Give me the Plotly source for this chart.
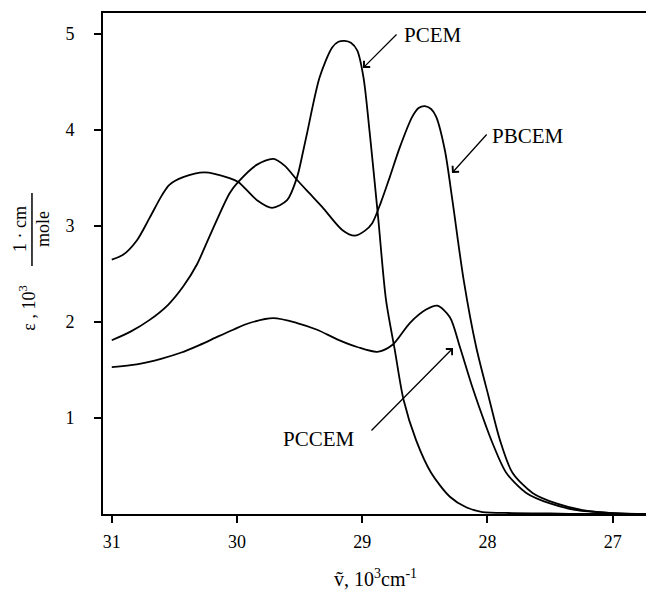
import plotly.graph_objects as go

# ---- data ----
pcem_x = [31.0, 30.91, 30.80, 30.70, 30.60, 30.54, 30.43, 30.26, 30.06, 29.99, 29.84, 29.72,
          29.60, 29.52, 29.47, 29.44, 29.34, 29.24, 29.19, 29.14, 29.09, 29.04, 28.99, 28.94,
          28.90, 28.87, 28.81, 28.74, 28.67, 28.57, 28.45, 28.30, 28.17, 28.04, 27.8, 27.5,
          27.2, 26.9, 26.67]
pcem_y = [2.65, 2.70, 2.85, 3.08, 3.32, 3.43, 3.51, 3.56, 3.50, 3.46, 3.27, 3.19,
          3.27, 3.51, 3.79, 3.97, 4.55, 4.86, 4.92, 4.93, 4.91, 4.83, 4.55, 3.97,
          3.45, 3.05, 2.23, 1.71, 1.19, 0.77, 0.43, 0.18, 0.07, 0.02, 0.01, 0.005,
          0.0, 0.0, 0.0]

pbcem_x = [31.0, 30.85, 30.70, 30.55, 30.43, 30.32, 30.22, 30.06, 29.99, 29.84, 29.71, 29.62,
           29.52, 29.42, 29.32, 29.16, 29.06, 28.98, 28.92, 28.85, 28.78, 28.70, 28.60, 28.55,
           28.50, 28.45, 28.41, 28.34, 28.28, 28.19, 28.09, 27.99, 27.90, 27.80, 27.64, 27.45,
           27.24, 27.0, 26.8, 26.67]
pbcem_y = [1.81, 1.90, 2.02, 2.18, 2.37, 2.60, 2.89, 3.34, 3.46, 3.64, 3.70, 3.63,
           3.48, 3.34, 3.20, 2.96, 2.90, 2.95, 3.03, 3.25, 3.51, 3.82, 4.14, 4.23,
           4.25, 4.22, 4.14, 3.79, 3.27, 2.44, 1.74, 1.22, 0.77, 0.43, 0.22, 0.11,
           0.04, 0.01, 0.0, 0.0]

pccem_x = [31.0, 30.8, 30.6, 30.45, 30.3, 30.15, 30.03, 29.9, 29.71, 29.52, 29.36, 29.2,
           29.04, 28.88, 28.76, 28.62, 28.49, 28.40, 28.30, 28.22, 28.12, 28.01, 27.96,
           27.85, 27.69, 27.50, 27.29, 27.0, 26.8, 26.67]
pccem_y = [1.53, 1.56, 1.62, 1.68, 1.76, 1.85, 1.92, 1.99, 2.04, 1.99, 1.92, 1.82,
           1.74, 1.69, 1.76, 1.99, 2.13, 2.17, 2.05, 1.74, 1.32, 0.91, 0.74,
           0.43, 0.22, 0.11, 0.04, 0.01, 0.0, 0.0]

x_ticks = [31, 30, 29, 28, 27]
y_ticks = [1, 2, 3, 4, 5]

FONT = "Liberation Serif"

fig = go.Figure()
for xs, ys, name in [(pcem_x, pcem_y, "PCEM"), (pbcem_x, pbcem_y, "PBCEM"), (pccem_x, pccem_y, "PCCEM")]:
    fig.add_trace(go.Scatter(x=xs, y=ys, mode="lines", name=name,
                             line=dict(color="black", width=1.8, shape="spline", smoothing=0.8),
                             showlegend=False))

# curve labels with arrows
labels = [
    ("PCEM", 0.5989, 0.9561, 0.4719, 0.8902, 35, -35),
    ("PBCEM", 0.7713, 0.7545, 0.6334, 0.6806, 36, -40),
    ("PCCEM", 0.3920, 0.1497, 0.6352, 0.3313, -83, 84),
]
for txt, tx, ty, hx, hy, ax, ay in labels:
    fig.add_annotation(x=tx, y=ty, xref="paper", yref="paper", text=txt, showarrow=False,
                       xanchor="center", yanchor="middle",
                       font=dict(family=FONT, size=21, color="black"))
    fig.add_annotation(x=hx, y=hy, xref="paper", yref="paper", text="", showarrow=True,
                       ax=ax, ay=ay, arrowhead=4, arrowsize=1.3, arrowwidth=1.3, arrowcolor="black")

# y-axis title with fraction
ytitle_font = dict(family=FONT, size=18, color="black")
fig.add_annotation(x=-0.136, y=0.41, xref="paper", yref="paper", text="ε , 10<sup>3</sup>",
                   textangle=-90, showarrow=False, xanchor="center", yanchor="middle", font=ytitle_font)
fig.add_annotation(x=-0.1506, y=0.5689, xref="paper", yref="paper", text="1 · cm",
                   textangle=-90, showarrow=False, xanchor="center", yanchor="middle", font=ytitle_font)
fig.add_annotation(x=-0.1089, y=0.5689, xref="paper", yref="paper", text="mole",
                   textangle=-90, showarrow=False, xanchor="center", yanchor="middle", font=ytitle_font)
fig.add_shape(type="line", xref="paper", yref="paper", x0=-0.1289, x1=-0.1289, y0=0.495, y1=0.6407,
              line=dict(color="black", width=1.5))

# x-axis title
fig.add_annotation(x=0.495, y=-0.128, xref="paper", yref="paper",
                   text="ṽ, 10<sup>3</sup>cm<sup>-1</sup>", showarrow=False,
                   xanchor="center", yanchor="middle",
                   font=dict(family=FONT, size=20, color="black"))

fig.update_layout(
    width=646, height=586,
    margin=dict(l=95, r=0, t=5, b=80, autoexpand=False),
    plot_bgcolor="white", paper_bgcolor="white",
    xaxis=dict(range=[31.07, 26.67], tickvals=x_ticks, ticktext=[str(v) for v in x_ticks],
               showline=True, linecolor="black", linewidth=2, mirror=True, automargin=False,
               showgrid=False, zeroline=False, ticks="outside", ticklen=7, tickwidth=1.5,
               tickcolor="black", ticklabelstandoff=3,
               tickfont=dict(family=FONT, size=18, color="black")),
    yaxis=dict(range=[0, 5.22], tickvals=y_ticks, ticktext=[str(v) for v in y_ticks],
               showline=True, linecolor="black", linewidth=2, mirror=False, automargin=False,
               showgrid=False, zeroline=False, ticks="outside", ticklen=7, tickwidth=1.5,
               tickcolor="black", ticklabelstandoff=16,
               tickfont=dict(family=FONT, size=18, color="black")),
)

fig.write_html("out.html")
